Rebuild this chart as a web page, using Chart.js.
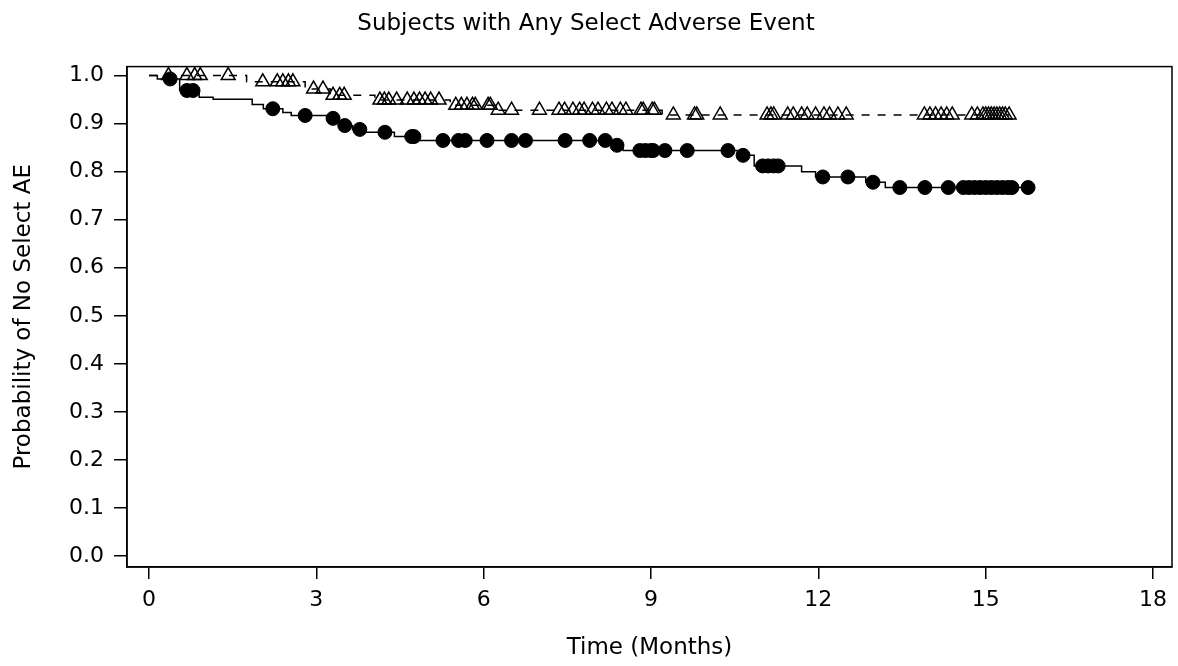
<!DOCTYPE html>
<html lang="en">
<head>
  <meta charset="UTF-8" />
  <title>Subjects with Any Select Adverse Event</title>
  <script src="https://cdn.jsdelivr.net/npm/chart.js"></script>
  <style>
    body { margin: 0; background: #fff; }
    #wrap { width: 1178px; height: 666px; }
  </style>
</head>
<body>
  <div id="wrap"><canvas id="kmChart"></canvas></div>

  <script>
    // Axis ticks
    const xTicks = [0, 3, 6, 9, 12, 15, 18];
    const yTicks = [0, 0.1, 0.2, 0.3, 0.4, 0.5, 0.6, 0.7, 0.8, 0.9, 1.0];

    // Solid curve (filled circles): step times and survival after each step
    const solidTimes = [0, 0.15, 0.55, 0.9, 1.15, 1.85, 2.05, 2.4, 2.55, 3.2, 3.4, 3.65, 3.85, 4.4, 4.85, 8.3, 8.5, 10.55, 10.85, 11.7, 11.95, 12.85, 13.2, 15.8];
    const solidSurv  = [1.0, 0.993, 0.969, 0.955, 0.951, 0.94, 0.931, 0.923, 0.917, 0.911, 0.896, 0.888, 0.882, 0.873, 0.865, 0.855, 0.844, 0.834, 0.812, 0.80, 0.789, 0.778, 0.767, 0.767];
    const solidCensor = [0.38, 0.68, 0.79, 2.22, 2.8, 3.3, 3.51, 3.78, 4.23, 4.71, 4.75, 5.27, 5.55, 5.67, 6.06, 6.5, 6.75,
      7.46, 7.9, 8.18, 8.39, 8.8, 8.9, 9.0, 9.04, 9.25, 9.65, 10.38, 10.65, 11.0, 11.1, 11.2, 11.28,
      12.08, 12.53, 12.98, 13.46, 13.91, 14.33, 14.6, 14.7, 14.8, 14.9, 15.0, 15.1, 15.2, 15.3, 15.4, 15.47, 15.76];

    // Dashed curve (open triangles)
    const dashTimes = [0, 1.75, 2.8, 3.25, 4.05, 5.4, 6.2, 9.2, 15.42];
    const dashSurv  = [1.0, 0.987, 0.972, 0.959, 0.949, 0.938, 0.928, 0.918, 0.918];
    const dashCensor = [0.35, 0.68, 0.82, 0.92, 1.42, 2.04, 2.3, 2.4, 2.5, 2.58, 2.95, 3.12, 3.3, 3.42, 3.5,
      4.14, 4.22, 4.3, 4.44, 4.63, 4.75, 4.85, 4.95, 5.05, 5.2, 5.5, 5.6, 5.7, 5.8, 5.85, 6.08, 6.12, 6.26, 6.5,
      7.0, 7.35, 7.45, 7.6, 7.72, 7.8, 7.95, 8.05, 8.2, 8.3, 8.45, 8.55, 8.82, 8.86, 9.02, 9.06,
      9.4, 9.78, 9.82, 10.24, 11.08, 11.15, 11.2, 11.45, 11.55, 11.7, 11.8, 11.95, 12.1, 12.2, 12.35, 12.5,
      13.9, 14.0, 14.1, 14.2, 14.3, 14.4, 14.75, 14.85, 14.95, 15.0, 15.05, 15.1, 15.15, 15.2, 15.25, 15.3, 15.35, 15.42];

    // survival value of a step curve at time t
    function survAt(times, surv, t) {
      let s = surv[0];
      for (let i = 0; i < times.length; i++) {
        if (times[i] <= t) s = surv[i];
      }
      return s;
    }

    const solidLine = solidTimes.map((t, i) => ({ x: t, y: solidSurv[i] }));
    const dashLine = dashTimes.map((t, i) => ({ x: t, y: dashSurv[i] }));
    const solidMarks = solidCensor.map(t => ({ x: t, y: survAt(solidTimes, solidSurv, t) }));
    const dashMarks = dashCensor.map(t => ({ x: t, y: survAt(dashTimes, dashSurv, t) }));

    Chart.defaults.font.family = 'DejaVu Sans';
    Chart.defaults.color = '#000';

    // box round the plot area
    const frame = {
      id: 'frame',
      afterDraw(chart) {
        const { ctx, chartArea: a } = chart;
        ctx.save();
        ctx.strokeStyle = '#000';
        ctx.lineWidth = 1.5;
        ctx.strokeRect(a.left, a.top, a.right - a.left, a.bottom - a.top);
        ctx.restore();
      }
    };

    new Chart(document.getElementById('kmChart'), {
      type: 'scatter',
      data: {
        datasets: [
          {
            type: 'line', data: dashLine, stepped: 'before', borderColor: '#000', borderWidth: 1.5,
            borderDash: [8, 8], pointRadius: 0, fill: false
          },
          {
            type: 'line', data: solidLine, stepped: 'before', borderColor: '#000', borderWidth: 1.5,
            pointRadius: 0, fill: false
          },
          {
            data: dashMarks, pointStyle: 'triangle', pointRadius: 8, borderColor: '#000',
            backgroundColor: 'rgba(0,0,0,0)', borderWidth: 1.5
          },
          {
            data: solidMarks, pointStyle: 'circle', pointRadius: 7, borderColor: '#000',
            backgroundColor: '#000', borderWidth: 1
          }
        ]
      },
      options: {
        responsive: true,
        maintainAspectRatio: false,
        animation: false,
        layout: { autoPadding: false, padding: { top: 10, right: 6, left: 0, bottom: 0 } },
        plugins: {
          legend: { display: false },
          tooltip: { enabled: false },
          title: {
            display: true,
            text: 'Subjects with Any Select Adverse Event',
            font: { size: 23, weight: 'normal' },
            padding: { top: 0, bottom: 29 }
          }
        },
        scales: {
          x: {
            type: 'linear', min: -0.394, max: 18.34,
            afterBuildTicks: s => { s.ticks = xTicks.map(v => ({ value: v })); },
            afterFit: s => { s.height = 99; s.paddingLeft = 0; s.paddingRight = 0; },
            ticks: { font: { size: 22 }, padding: 8, maxRotation: 0 },
            grid: { drawOnChartArea: false, drawTicks: true, tickLength: 12, color: '#000', lineWidth: 1.5 },
            border: { display: true, color: '#000', width: 1.5 },
            title: { display: true, text: 'Time (Months)', font: { size: 23 }, padding: { top: 0, bottom: 4 } }
          },
          y: {
            type: 'linear', min: -0.0228, max: 1.0187,
            afterBuildTicks: s => { s.ticks = yTicks.map(v => ({ value: v })); },
            afterFit: s => { s.width = 127; },
            ticks: { font: { size: 22 }, padding: 10, callback: v => v.toFixed(1) },
            grid: { drawOnChartArea: false, drawTicks: true, tickLength: 13, color: '#000', lineWidth: 1.5 },
            border: { display: true, color: '#000', width: 1.5 },
            title: { display: true, text: 'Probability of No Select AE', font: { size: 23 }, padding: { top: 10, bottom: 0 } }
          }
        }
      },
      plugins: [frame]
    });
  </script>
</body>
</html>
